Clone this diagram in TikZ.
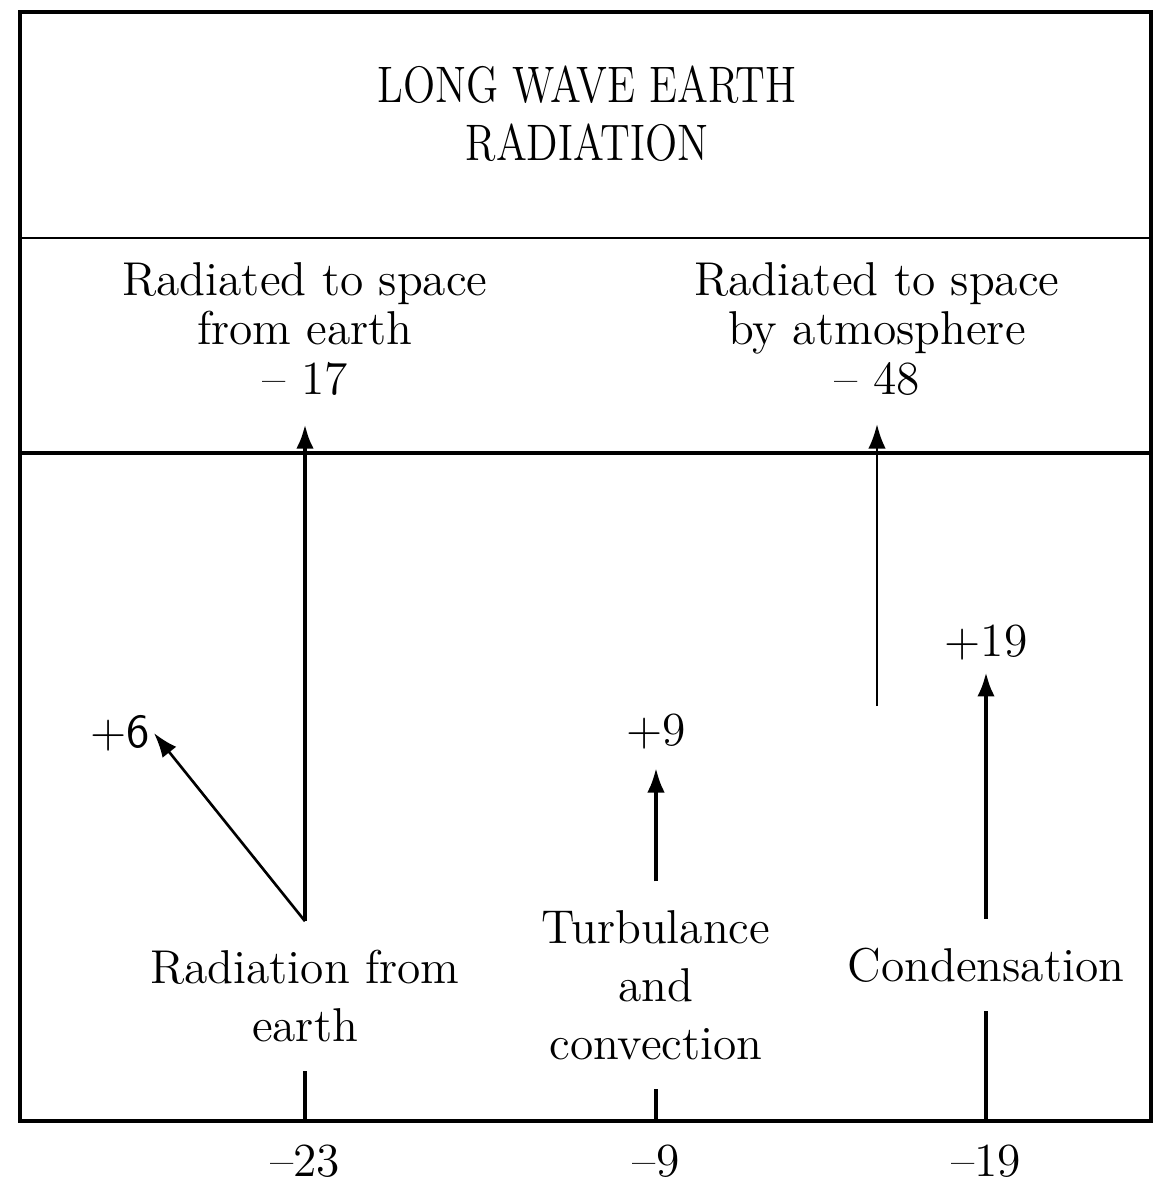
\documentclass[tikz,border=0pt]{standalone}
\usepackage{graphicx}
\usepackage{tikz}
\usetikzlibrary{arrows.meta,positioning,calc}
\tikzset{
    txt/.style={align=center, inner sep=8pt, font=\fontsize{13.5}{16.5}\selectfont},
    toptxt/.style={align=center, inner sep=8pt, font=\fontsize{13.5}{14}\selectfont},
    num/.style={inner sep=3pt, font=\fontsize{13.5}{14}\selectfont},
    flow/.style={line width=1.3pt, -{Latex[length=7pt,width=5pt]}},
    thinflow/.style={line width=0.75pt, -{Latex[length=7pt,width=5pt]}},
    stub/.style={line width=1.1pt},
}

\begin{document}
\begin{tikzpicture}[x=0.01cm, y=-0.01cm]
    \useasboundingbox (0,0) rectangle (1158,1185);
    % Frame and section lines
    \draw[line width=1pt] (20,1121) -- (20,12) -- (1151,12) -- (1151,1121);
    \draw[line width=0.8pt] (20,238) -- (1151,238);
    \draw[line width=1.4pt] (20,453) -- (1151,453);
    \draw[line width=1.4pt] (18,1121) -- (1153,1121);
    % Headings
    \node[align=center, font=\fontsize{14.6}{16.5}\selectfont] (title) at (587,114)
        {\scalebox{0.82}[1]{LONG WAVE EARTH}\\\scalebox{0.82}[1]{RADIATION}};
    \node[toptxt] (earthsp) at (305,329) {Radiated to space\\from earth\\-- 17};
    \node[toptxt] (atmsp) at (877,329) {Radiated to space\\by atmosphere\\-- 48};
    % Sources at the ground
    \node[txt] (radE) at (305,996) {Radiation from\\earth};
    \node[txt] (turb) at (656,985) {Turbulance\\and\\convection};
    \node[txt] (cond) at (986,965) {Condensation};
    % Gains
    \node[num, inner sep=1pt, font=\fontsize{13.5}{14}\sffamily] (six) at (120,733) {+6};
    \node[num] (nine) at (656,732) {+9};
    \node[num] (nineteen) at (986,643) {+19};
    % Losses at the ground
    \node[num] (lossE) at (305,1161) {--23};
    \node[num] (lossT) at (656,1161) {--9};
    \node[num] (lossC) at (986,1161) {--19};
    \coordinate (gE) at (305,1121);
    \coordinate (gT) at (656,1121);
    \coordinate (gC) at (986,1121);
    \coordinate (atmbase) at (877,706);
    % Flows
    \draw[stub] (gE) -- (radE);
    \draw[flow] (radE.north) -- (earthsp);
    \draw[thinflow] (radE.north) -- (six.east);
    \draw[thinflow] (atmbase) -- (atmsp);
    \draw[stub] (gT) -- (turb);
    \draw[flow, line width=1.1pt, shorten >=2pt] (turb) -- (nine);
    \draw[stub] (gC) -- (cond);
    \draw[flow] (cond) -- (nineteen);
\end{tikzpicture}
\end{document}
